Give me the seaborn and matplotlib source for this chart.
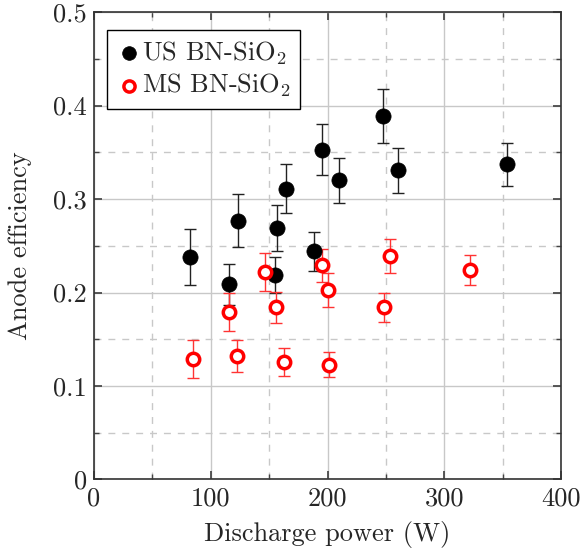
import numpy as np
import pandas as pd
import seaborn as sns
import matplotlib.pyplot as plt
from matplotlib.ticker import MultipleLocator

# US BN-SiO2 data
us_power = [82.2, 115.6, 123.3, 155.0, 156.4, 164.4, 188.8, 195.5, 210.1, 247.5, 260.1, 353.4]
us_eff = [0.238, 0.209, 0.277, 0.219, 0.269, 0.311, 0.244, 0.353, 0.320, 0.389, 0.331, 0.337]
us_err = [0.030, 0.022, 0.028, 0.019, 0.025, 0.026, 0.021, 0.027, 0.024, 0.029, 0.024, 0.023]

# MS BN-SiO2 data
ms_power = [85.0, 115.6, 122.2, 146.4, 155.9, 162.9, 195.0, 200.6, 201.5, 248.6, 253.2, 322.3]
ms_eff = [0.129, 0.179, 0.132, 0.222, 0.184, 0.126, 0.229, 0.203, 0.123, 0.184, 0.239, 0.224]
ms_err = [0.020, 0.020, 0.017, 0.020, 0.017, 0.015, 0.018, 0.018, 0.013, 0.015, 0.018, 0.016]

x_ticks = [0, 100, 200, 300, 400]
y_ticks = [0, 0.1, 0.2, 0.3, 0.4, 0.5]
y_ticklabels = ['0', '0.1', '0.2', '0.3', '0.4', '0.5']

sns.set_theme(style='white')
plt.rcParams['font.family'] = ['serif']
plt.rcParams['font.serif'] = ['cmr10', 'DejaVu Serif']
plt.rcParams['mathtext.fontset'] = 'cm'
plt.rcParams['axes.formatter.use_mathtext'] = True

us = pd.DataFrame({'power': us_power, 'eff': us_eff, 'err': us_err})
ms = pd.DataFrame({'power': ms_power, 'eff': ms_eff, 'err': ms_err})

fig = plt.figure(figsize=(5.83, 5.5), dpi=100)
ax = fig.add_axes([0.1612, 0.1282, 0.8011, 0.8498])

ax.errorbar(us['power'], us['eff'], yerr=us['err'], fmt='none', ecolor='#222222',
            elinewidth=1.0, capsize=4, capthick=1.0, zorder=3)
ax.errorbar(ms['power'], ms['eff'], yerr=ms['err'], fmt='none', ecolor='#ff3333',
            elinewidth=1.0, capsize=4, capthick=1.0, zorder=3)

sns.scatterplot(data=us, x='power', y='eff', ax=ax, color='black', s=120,
                edgecolor='black', linewidth=0.5, label=r'US BN-SiO$_2$', zorder=4)
sns.scatterplot(data=ms, x='power', y='eff', ax=ax, facecolor='white', s=80,
                edgecolor='#ff0000', linewidth=2.5, label=r'MS BN-SiO$_2$', zorder=4)

ax.set_xlim(0, 400)
ax.set_ylim(0, 0.5)
ax.set_xticks(x_ticks)
ax.set_xticklabels([str(t) for t in x_ticks])
ax.set_yticks(y_ticks)
ax.set_yticklabels(y_ticklabels)
ax.xaxis.set_minor_locator(MultipleLocator(50))
ax.yaxis.set_minor_locator(MultipleLocator(0.05))

ax.grid(True, which='major', color='#c8c8c8', linestyle='-', linewidth=1.0, zorder=0)
ax.grid(True, which='minor', color='#c8c8c8', linestyle=(0, (5, 5)), linewidth=1.0, zorder=0)
ax.set_axisbelow(True)

ax.tick_params(which='both', direction='in', top=True, right=True, bottom=True, left=True,
               color='#444444', labelsize=19, pad=5)
ax.tick_params(which='major', length=6)
ax.tick_params(which='minor', length=3.5)
for s in ax.spines.values():
    s.set_color('#333333')
    s.set_linewidth(1.2)

ax.set_xlabel('Discharge power (W)', fontsize=19, labelpad=8)
ax.set_ylabel('Anode efficiency', fontsize=19, labelpad=15)

leg = ax.legend(loc='upper left', bbox_to_anchor=(0.027, 0.962), fontsize=19, frameon=True,
                fancybox=False, edgecolor='black', handletextpad=0.0, handlelength=1.0,
                borderpad=0.35, labelspacing=0.2, borderaxespad=0.0, markerscale=0.9)
leg.get_frame().set_linewidth(1.0)
leg.get_frame().set_alpha(1.0)

fig.savefig('out.png', dpi=100)
